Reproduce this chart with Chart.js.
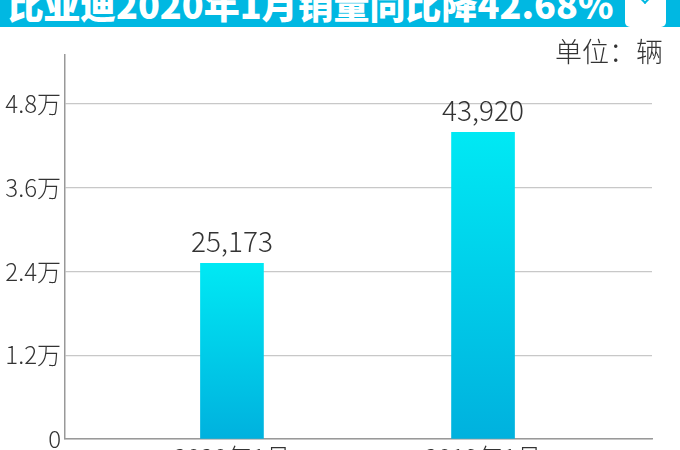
<!DOCTYPE html>
<html><head><meta charset="utf-8">
<script src="https://cdn.jsdelivr.net/npm/chart.js@4"></script>
<style>
html,body{margin:0;padding:0;width:680px;height:450px;overflow:hidden;background:#fff;}
#wrap{position:absolute;left:0;top:0;width:680px;height:475px;}
#titlebar{position:absolute;left:0;top:0;width:680px;height:27px;background:#00b8e2;overflow:hidden;z-index:2;}
#title{position:absolute;left:8px;top:-15px;line-height:37px;color:#fff;font-family:"Noto Sans CJK SC",sans-serif;font-weight:900;font-size:36px;white-space:nowrap;}
#btn{position:absolute;left:625px;top:-6px;width:41px;height:33px;background:#fff;border-radius:5px;}
#chev{position:absolute;left:15px;top:-2px;width:8px;height:8px;border-right:2px solid #00b8e2;border-bottom:2px solid #00b8e2;transform:rotate(45deg);}
#unit{position:absolute;right:17px;top:37px;line-height:27px;font-family:"Noto Sans CJK SC",sans-serif;font-weight:300;font-size:27px;color:#333;z-index:2;white-space:nowrap;}
</style>
</head><body>
<div id="wrap"><canvas id="c"></canvas></div>
<div id="titlebar"><span id="title">比亚迪2020年1月销量同比降42.68%</span><div id="btn"><div id="chev"></div></div></div>
<div id="unit">单位：辆</div>
<script>
const categories = ['2020年1月', '2019年1月'];
const salesValues = [25173, 43920];
const yTickValues = [0, 12000, 24000, 36000, 48000];
const yTickLabels = ['0', '1.2万', '2.4万', '3.6万', '4.8万'];

const FONT = '"Noto Sans CJK SC", "Noto Sans", sans-serif';

const barGradient = (c) => {
  const chart = c.chart;
  if (!chart.chartArea || c.type !== 'data') return '#00cdea';
  const ys = chart.scales.y;
  const top = ys.getPixelForValue(c.raw.y), bot = ys.getPixelForValue(0);
  const g = chart.ctx.createLinearGradient(0, top, 0, bot);
  g.addColorStop(0, '#00e9f4');
  g.addColorStop(1, '#00b1de');
  return g;
};

const valueLabelPlugin = {
  id: 'valueLabels',
  afterDatasetsDraw(chart) {
    const ctx = chart.ctx;
    const meta = chart.getDatasetMeta(0);
    ctx.save();
    ctx.font = '300 28px ' + FONT;
    ctx.fillStyle = '#333';
    ctx.textAlign = 'center';
    ctx.textBaseline = 'alphabetic';
    meta.data.forEach((el, i) => {
      ctx.fillText(salesValues[i].toLocaleString('en-US'), el.x, el.y - 11);
    });
    ctx.restore();
  }
};

new Chart(document.getElementById('c'), {
  type: 'bar',
  data: {
    datasets: [{
      data: salesValues.map((v, i) => ({ x: i, y: v })),
      backgroundColor: barGradient,
      barThickness: 63,
      borderWidth: 0
    }]
  },
  options: {
    responsive: true,
    maintainAspectRatio: false,
    animation: false,
    layout: { padding: { left: 0, right: 28, top: 55, bottom: 0 } },
    plugins: { legend: { display: false }, tooltip: { enabled: false } },
    scales: {
      x: {
        type: 'linear', min: -0.665, max: 1.673, offset: false,
        grid: { display: false, drawTicks: false },
        border: { display: true, color: '#999', width: 1.5 },
        afterBuildTicks: (s) => { s.ticks = categories.map((_, i) => ({ value: i })); },
        afterFit: (s) => { s.height = 36; },
        ticks: {
          autoSkip: false, maxRotation: 0, padding: 3, color: '#333',
          font: { family: FONT, size: 25, weight: '300' },
          callback: (v) => categories[v] ?? ''
        }
      },
      y: {
        min: 0, max: 55000,
        afterBuildTicks: (s) => { s.ticks = yTickValues.map(v => ({ value: v })); },
        afterFit: (s) => { s.width = 65; },
        grid: { color: '#c8c8c8', lineWidth: 1.2, drawTicks: false },
        border: { display: true, color: '#999', width: 1.5 },
        ticks: {
          padding: 4, color: '#333',
          font: { family: FONT, size: 24, weight: '300' },
          callback: (v) => { const i = yTickValues.indexOf(v); return i >= 0 ? yTickLabels[i] : ''; }
        }
      }
    }
  },
  plugins: [valueLabelPlugin]
});
</script>
</body></html>
